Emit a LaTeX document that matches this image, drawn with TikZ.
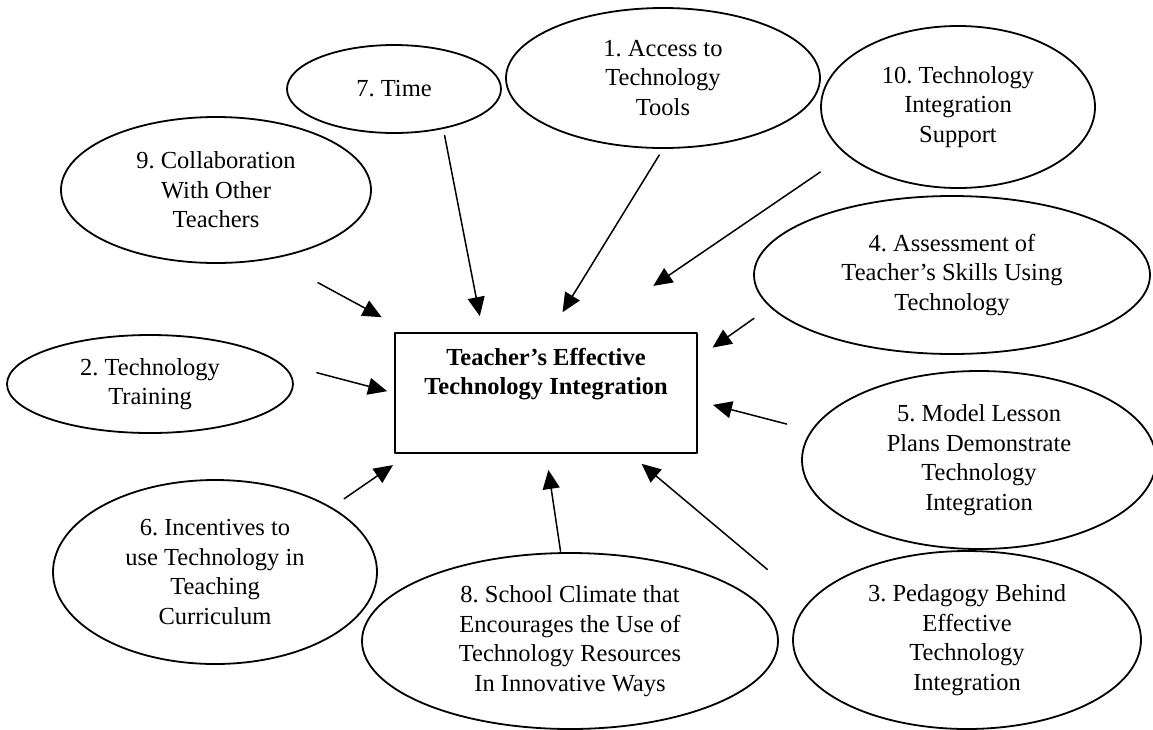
\documentclass[tikz,border=0pt]{standalone}
\usepackage{fontspec}
\setmainfont{Liberation Serif}
\usetikzlibrary{shapes.geometric,arrows.meta}
\frenchspacing
\begin{document}
\begin{tikzpicture}[x=1pt,y=-1pt,line join=round,line cap=round,>={Triangle[length=19pt,width=17pt]}]
	\tikzset{every node/.style={font=\fontsize{24.5}{29.5}\selectfont,align=center,inner sep=0pt}}
	\tikzset{factor/.style={draw,ellipse,line width=1.8pt}}
	\useasboundingbox (0,0) rectangle (1153,729);
	% centre box
	\node[draw,line width=1.8pt,minimum width=302pt,minimum height=120pt] (box) at (546,393) {};
	\node[font=\fontsize{24.5}{29.5}\selectfont\bfseries] (boxtext) at (546,374) {Teacher's Effective\\Technology Integration};
	% factors
	\node[factor,minimum width=214pt,minimum height=88pt] (t7) at (394,89) {7. Time};
	\node[factor,minimum width=314pt,minimum height=140pt] (t1) at (663,78) {1. Access to\\Technology\\Tools};
	\node[factor,minimum width=274pt,minimum height=162pt] (t10) at (958,107) {10. Technology\\Integration\\Support};
	\node[factor,minimum width=310pt,minimum height=146pt] (t9) at (216,190) {9. Collaboration\\With Other\\Teachers};
	\node[factor,minimum width=396pt,minimum height=158pt] (t4) at (952,275) {4. Assessment of\\Teacher's Skills Using\\Technology};
	\node[factor,minimum width=286pt,minimum height=98pt] (t2) at (150,384) {2. Technology\\Training};
	\node[factor,minimum width=354pt,minimum height=178pt] (t5) at (979,460) {5. Model Lesson\\Plans Demonstrate\\Technology\\Integration};
	\node[factor,minimum width=324pt,minimum height=184pt] (t6) at (215,572) {6. Incentives to\\use Technology in\\Teaching\\Curriculum};
	\node[factor,minimum width=416pt,minimum height=176pt] (t8) at (570,641) {8. School Climate that\\Encourages the Use of\\Technology Resources\\In Innovative Ways};
	\node[factor,minimum width=348pt,minimum height=178pt] (t3) at (967,640) {3. Pedagogy Behind\\Effective\\Technology\\Integration};
	% arrows into the box
	\foreach \f/\fa/\fs/\ba/\bs in {t7/-39.6/6.7/136.8/16.3, t1/-90/7.1/86.4/23.4,
		t10/203.4/30.8/57.7/82, t9/-50.5/50.4/156.3/31.3, t4/190.2/19.5/13.8/17.9,
		t2/9/37.2/180/7.2, t5/170.7/25.2/-3.8/15.5, t6/29.2/15/204/19.7,
		t8/96.4/1/270/16.2, t3/167.2/52.5/324.9/15.4}
	\draw[->,line width=1.5pt,shorten <=\fs pt,shorten >=\bs pt] (\f.\fa) -- (box.\ba);
\end{tikzpicture}
\end{document}
